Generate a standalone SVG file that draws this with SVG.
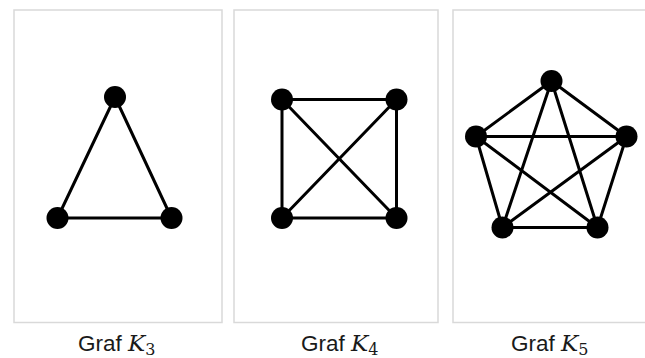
<svg xmlns="http://www.w3.org/2000/svg" width="645" height="358" viewBox="0 0 645 358">
  <style>
    .panel { fill: #ffffff; stroke: #d9d9d9; stroke-width: 1.5; }
    .edge { stroke: #000000; stroke-width: 3; stroke-linecap: round; fill: none; }
    .vertex { fill: #000000; }
    .label { font-family: "Liberation Sans", Arial, sans-serif; font-size: 22.5px; fill: #1a1a1a; }
    .math { font-family: "DejaVu Serif", "Liberation Serif", serif; font-size: 23px; font-style: italic; }
    .sub { font-family: "DejaVu Serif", "Liberation Serif", serif; font-size: 16px; font-style: normal; }
  </style>
  <rect width="645" height="358" fill="#ffffff"/>

  <!-- panel frames -->
  <g id="frames">
    <rect class="panel" x="14" y="10" width="208" height="312.5"/>
    <rect class="panel" x="234" y="10" width="204" height="312.5"/>
    <rect class="panel" x="453" y="10" width="200" height="312.5"/>
  </g>

  <!-- edges of all three complete graphs -->
  <g id="connectors">
    <!-- K3 -->
    <line class="edge" x1="115" y1="97" x2="57.5" y2="218"/>
    <line class="edge" x1="115" y1="97" x2="171.5" y2="218"/>
    <line class="edge" x1="57.5" y1="218" x2="171.5" y2="218"/>
    <!-- K4 -->
    <line class="edge" x1="282" y1="99.5" x2="396.5" y2="99.5"/>
    <line class="edge" x1="282" y1="218" x2="396.5" y2="218"/>
    <line class="edge" x1="282" y1="99.5" x2="282" y2="218"/>
    <line class="edge" x1="396.5" y1="99.5" x2="396.5" y2="218"/>
    <line class="edge" x1="282" y1="99.5" x2="396.5" y2="218"/>
    <line class="edge" x1="396.5" y1="99.5" x2="282" y2="218"/>
    <!-- K5 -->
    <line class="edge" x1="551.5" y1="81" x2="476" y2="136.5"/>
    <line class="edge" x1="551.5" y1="81" x2="626.5" y2="136.5"/>
    <line class="edge" x1="551.5" y1="81" x2="502.5" y2="227.5"/>
    <line class="edge" x1="551.5" y1="81" x2="597.5" y2="227.5"/>
    <line class="edge" x1="476" y1="136.5" x2="626.5" y2="136.5"/>
    <line class="edge" x1="476" y1="136.5" x2="502.5" y2="227.5"/>
    <line class="edge" x1="476" y1="136.5" x2="597.5" y2="227.5"/>
    <line class="edge" x1="626.5" y1="136.5" x2="502.5" y2="227.5"/>
    <line class="edge" x1="626.5" y1="136.5" x2="597.5" y2="227.5"/>
    <line class="edge" x1="502.5" y1="227.5" x2="597.5" y2="227.5"/>
  </g>

  <!-- K3 vertices -->
  <g id="k3">
    <circle class="vertex" cx="115" cy="97" r="11"/>
    <circle class="vertex" cx="57.5" cy="218" r="11"/>
    <circle class="vertex" cx="171.5" cy="218" r="11"/>
  </g>

  <!-- K4 vertices -->
  <g id="k4">
    <circle class="vertex" cx="282" cy="99.5" r="11"/>
    <circle class="vertex" cx="396.5" cy="99.5" r="11"/>
    <circle class="vertex" cx="282" cy="218" r="11"/>
    <circle class="vertex" cx="396.5" cy="218" r="11"/>
  </g>

  <!-- K5 vertices -->
  <g id="k5">
    <circle class="vertex" cx="551.5" cy="81" r="11"/>
    <circle class="vertex" cx="476" cy="136.5" r="11"/>
    <circle class="vertex" cx="626.5" cy="136.5" r="11"/>
    <circle class="vertex" cx="502.5" cy="227.5" r="11"/>
    <circle class="vertex" cx="597.5" cy="227.5" r="11"/>
  </g>

  <!-- captions -->
  <g id="captions">
    <text class="label" x="78" y="350.5">Graf <tspan class="math">K</tspan><tspan class="sub" dy="4">3</tspan></text>
    <text class="label" x="301" y="350.5">Graf <tspan class="math">K</tspan><tspan class="sub" dy="4">4</tspan></text>
    <text class="label" x="511" y="350.5">Graf <tspan class="math">K</tspan><tspan class="sub" dy="4">5</tspan></text>
  </g>
</svg>
